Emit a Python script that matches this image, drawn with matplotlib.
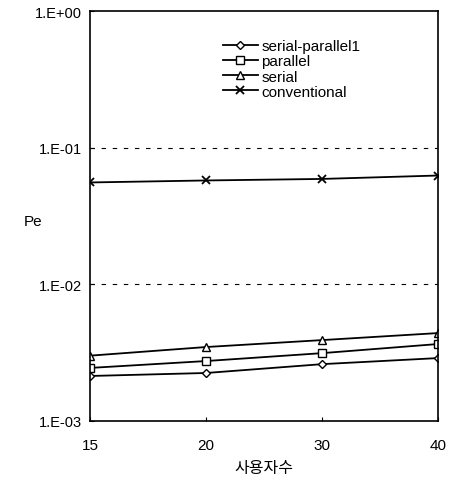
import matplotlib.pyplot as plt
from matplotlib.ticker import FixedLocator, NullLocator

plt.rcParams['font.family'] = ['Liberation Sans', 'Noto Sans CJK KR', 'DejaVu Sans']

users = ['15', '20', '30', '40']
serial_parallel1 = [0.00213, 0.00224, 0.00260, 0.00288]
parallel = [0.00244, 0.00274, 0.00313, 0.00365]
serial = [0.00300, 0.00347, 0.00390, 0.00439]
conventional = [0.0556, 0.0575, 0.0590, 0.0625]

y_ticks = [1e-3, 1e-2, 1e-1, 1e0]
y_labels = ['1.E-03', '1.E-02', '1.E-01', '1.E+00']

fig = plt.figure(figsize=(4.53, 4.81), dpi=100)
ax = fig.add_axes([0.199, 0.123, 0.768, 0.852])

x = range(len(users))
ax.plot(x, serial_parallel1, '-D', color='black', lw=1.3, ms=4.5, mfc='white', mew=1.0, label='serial-parallel1')
ax.plot(x, parallel, '-s', color='black', lw=1.3, ms=6, mfc='white', mew=1.0, label='parallel')
ax.plot(x, serial, '-^', color='black', lw=1.3, ms=6, mfc='white', mew=1.0, label='serial')
ax.plot(x, conventional, '-x', color='black', lw=1.3, ms=6, mew=1.3, label='conventional')

ax.set_yscale('log')
ax.set_ylim(1e-3, 1e0)
ax.set_xlim(0, len(users) - 1)
ax.yaxis.set_major_locator(FixedLocator(y_ticks))
ax.yaxis.set_minor_locator(NullLocator())
ax.set_yticklabels(y_labels)
ax.set_xticks(list(x))
ax.set_xticklabels(users)

for yv in [1e-2, 1e-1]:
    ax.axhline(yv, color='black', lw=0.8, ls=(0, (4, 6)))

ax.tick_params(axis='y', labelsize=10.5, length=3, direction='in', pad=6)
ax.tick_params(axis='x', labelsize=11, length=3, direction='in', pad=12)
for s in ax.spines.values():
    s.set_linewidth(1.2)

ax.set_xlabel('사용자수', fontsize=11.5, labelpad=6)
ax.set_ylabel('Pe', fontsize=11, rotation=0)
ax.yaxis.set_label_coords(-0.165, 0.47)

ax.legend(loc='upper left', bbox_to_anchor=(0.342, 0.965), frameon=False, fontsize=11,
          handlelength=2.3, labelspacing=0.08, handletextpad=0.2)

fig.savefig('out.png', dpi=100)
